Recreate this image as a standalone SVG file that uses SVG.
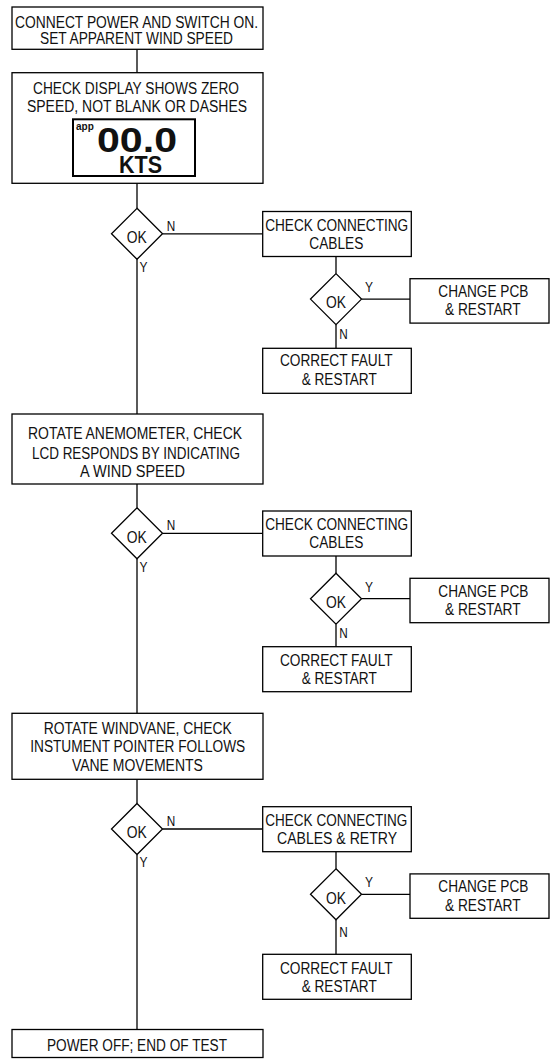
<svg xmlns="http://www.w3.org/2000/svg" width="550" height="1059" viewBox="0 0 550 1059">
<style>
rect.box,polygon.dec{fill:#fff;stroke:#000;stroke-width:1.3}
rect.disp{fill:#fff;stroke:#000;stroke-width:2}
#connectors line{stroke:#000;stroke-width:1.3}
text{font-family:"Liberation Sans",Arial,sans-serif;font-size:16px;fill:#111;text-anchor:middle}
text.lbl{font-size:14px;text-anchor:start}
text.big{font-weight:bold}
</style>
<rect width="550" height="1059" fill="#fff"/>
<g id="connectors">
<line x1="137" y1="49.3" x2="137" y2="72.7"/>
<line x1="137" y1="183.3" x2="137" y2="208.3"/>
<line x1="137" y1="259.3" x2="137" y2="414"/>
<line x1="137" y1="484" x2="137" y2="507.8"/>
<line x1="137" y1="558.8" x2="137" y2="713.3"/>
<line x1="137" y1="779.3" x2="137" y2="803.5"/>
<line x1="137" y1="854.5" x2="137" y2="1029.5"/>
<line x1="162.5" y1="233.8" x2="262.7" y2="233.8"/>
<line x1="336" y1="256.5" x2="336" y2="273.6"/>
<line x1="361.5" y1="299.1" x2="410" y2="299.1"/>
<line x1="336" y1="324.6" x2="336" y2="348.3"/>
<line x1="162.5" y1="533.3" x2="262.7" y2="533.3"/>
<line x1="336" y1="556" x2="336" y2="573.2"/>
<line x1="361.5" y1="598.7" x2="410" y2="598.7"/>
<line x1="336" y1="624.2" x2="336" y2="646.7"/>
<line x1="162.5" y1="829" x2="262.7" y2="829"/>
<line x1="336" y1="851.7" x2="336" y2="868.8"/>
<line x1="361.5" y1="894.3" x2="410" y2="894.3"/>
<line x1="336" y1="919.8" x2="336" y2="954.3"/>
</g>
<g id="start">
<rect class="box" x="12" y="7" width="251" height="42.3"/>
<text x="136.5" y="27.5" textLength="243" lengthAdjust="spacingAndGlyphs">CONNECT POWER AND SWITCH ON.</text>
<text x="136.5" y="44.4" textLength="193" lengthAdjust="spacingAndGlyphs">SET APPARENT WIND SPEED</text>
</g>
<g id="check-display">
<rect class="box" x="12" y="72.7" width="251" height="110.6"/>
<text x="136" y="94" textLength="206" lengthAdjust="spacingAndGlyphs">CHECK DISPLAY SHOWS ZERO</text>
<text x="137" y="112.4" textLength="220" lengthAdjust="spacingAndGlyphs">SPEED, NOT BLANK OR DASHES</text>
<rect class="disp" x="73" y="119.3" width="122" height="56.7"/>
<text class="big" x="76" y="130" style="font-size:10px;text-anchor:start">app</text>
<text class="big" x="137" y="151.7" style="font-size:35px" textLength="80" lengthAdjust="spacingAndGlyphs">00.0</text>
<text class="big" x="140.5" y="173.3" style="font-size:23px" textLength="43" lengthAdjust="spacingAndGlyphs">KTS</text>
</g>
<g id="ok1">
<polygon class="dec" points="137,208.3 162.5,233.8 137,259.3 111.5,233.8"/>
<text x="136.7" y="243" textLength="20" lengthAdjust="spacingAndGlyphs">OK</text>
<text class="lbl" x="166.7" y="231" textLength="8.5" lengthAdjust="spacingAndGlyphs">N</text>
<text class="lbl" x="139.5" y="271.5" textLength="8" lengthAdjust="spacingAndGlyphs">Y</text>
</g>
<g id="cables1">
<rect class="box" x="262.7" y="211.5" width="148.6" height="45"/>
<text x="336.7" y="230.5" textLength="143" lengthAdjust="spacingAndGlyphs">CHECK CONNECTING</text>
<text x="336.3" y="248.8" textLength="54" lengthAdjust="spacingAndGlyphs">CABLES</text>
</g>
<g id="ok1b">
<polygon class="dec" points="336,273.6 361.5,299.1 336,324.6 310.5,299.1"/>
<text x="336" y="308.3" textLength="20" lengthAdjust="spacingAndGlyphs">OK</text>
<text class="lbl" x="365" y="292.1" textLength="8" lengthAdjust="spacingAndGlyphs">Y</text>
<text class="lbl" x="339.3" y="338.7" textLength="8.5" lengthAdjust="spacingAndGlyphs">N</text>
</g>
<g id="pcb1">
<rect class="box" x="410" y="278.7" width="139" height="44.4"/>
<text x="483.3" y="297.1" textLength="90" lengthAdjust="spacingAndGlyphs">CHANGE PCB</text>
<text x="482.8" y="315.4" textLength="75.7" lengthAdjust="spacingAndGlyphs">&amp; RESTART</text>
</g>
<g id="fault1">
<rect class="box" x="262.7" y="348.3" width="148.6" height="45"/>
<text x="336.3" y="366.4" textLength="112.7" lengthAdjust="spacingAndGlyphs">CORRECT FAULT</text>
<text x="339.2" y="384.7" textLength="75" lengthAdjust="spacingAndGlyphs">&amp; RESTART</text>
</g>
<g id="anemometer">
<rect class="box" x="12" y="414" width="251" height="70"/>
<text x="135" y="439.3" textLength="214" lengthAdjust="spacingAndGlyphs">ROTATE ANEMOMETER, CHECK</text>
<text x="136" y="459" textLength="208" lengthAdjust="spacingAndGlyphs">LCD RESPONDS BY INDICATING</text>
<text x="132.5" y="477.3" textLength="105" lengthAdjust="spacingAndGlyphs">A WIND SPEED</text>
</g>
<g id="ok2">
<polygon class="dec" points="137,507.8 162.5,533.3 137,558.8 111.5,533.3"/>
<text x="136.7" y="542.5" textLength="20" lengthAdjust="spacingAndGlyphs">OK</text>
<text class="lbl" x="166.7" y="530" textLength="8.5" lengthAdjust="spacingAndGlyphs">N</text>
<text class="lbl" x="139.5" y="571.7" textLength="8" lengthAdjust="spacingAndGlyphs">Y</text>
</g>
<g id="cables2">
<rect class="box" x="262.7" y="511" width="148.6" height="45"/>
<text x="336.7" y="530" textLength="143" lengthAdjust="spacingAndGlyphs">CHECK CONNECTING</text>
<text x="336.3" y="548.3" textLength="54" lengthAdjust="spacingAndGlyphs">CABLES</text>
</g>
<g id="ok2b">
<polygon class="dec" points="336,573.2 361.5,598.7 336,624.2 310.5,598.7"/>
<text x="336" y="607.9" textLength="20" lengthAdjust="spacingAndGlyphs">OK</text>
<text class="lbl" x="365" y="591.7" textLength="8" lengthAdjust="spacingAndGlyphs">Y</text>
<text class="lbl" x="339.3" y="638.3" textLength="8.5" lengthAdjust="spacingAndGlyphs">N</text>
</g>
<g id="pcb2">
<rect class="box" x="410" y="578.3" width="139" height="44.4"/>
<text x="483.3" y="596.7" textLength="90" lengthAdjust="spacingAndGlyphs">CHANGE PCB</text>
<text x="482.8" y="615" textLength="75.7" lengthAdjust="spacingAndGlyphs">&amp; RESTART</text>
</g>
<g id="fault2">
<rect class="box" x="262.7" y="646.7" width="148.6" height="45"/>
<text x="336.3" y="666" textLength="112.7" lengthAdjust="spacingAndGlyphs">CORRECT FAULT</text>
<text x="339.2" y="684.3" textLength="75" lengthAdjust="spacingAndGlyphs">&amp; RESTART</text>
</g>
<g id="windvane">
<rect class="box" x="12" y="713.3" width="251" height="66"/>
<text x="137.7" y="734" textLength="188" lengthAdjust="spacingAndGlyphs">ROTATE WINDVANE, CHECK</text>
<text x="137.7" y="752.4" textLength="215" lengthAdjust="spacingAndGlyphs">INSTUMENT POINTER FOLLOWS</text>
<text x="137.4" y="770.7" textLength="131" lengthAdjust="spacingAndGlyphs">VANE MOVEMENTS</text>
</g>
<g id="ok3">
<polygon class="dec" points="137,803.5 162.5,829 137,854.5 111.5,829"/>
<text x="136.7" y="838.2" textLength="20" lengthAdjust="spacingAndGlyphs">OK</text>
<text class="lbl" x="166.7" y="825.7" textLength="8.5" lengthAdjust="spacingAndGlyphs">N</text>
<text class="lbl" x="139.5" y="867.4" textLength="8" lengthAdjust="spacingAndGlyphs">Y</text>
</g>
<g id="cables3">
<rect class="box" x="262.7" y="806.7" width="148.6" height="45"/>
<text x="336.3" y="825.7" textLength="142" lengthAdjust="spacingAndGlyphs">CHECK CONNECTING</text>
<text x="337" y="844" textLength="120" lengthAdjust="spacingAndGlyphs">CABLES &amp; RETRY</text>
</g>
<g id="ok3b">
<polygon class="dec" points="336,868.8 361.5,894.3 336,919.8 310.5,894.3"/>
<text x="336" y="903.5" textLength="20" lengthAdjust="spacingAndGlyphs">OK</text>
<text class="lbl" x="365" y="887.3" textLength="8" lengthAdjust="spacingAndGlyphs">Y</text>
<text class="lbl" x="339.3" y="936.5" textLength="8.5" lengthAdjust="spacingAndGlyphs">N</text>
</g>
<g id="pcb3">
<rect class="box" x="410" y="873.9" width="139" height="44.4"/>
<text x="483.3" y="892.3" textLength="90" lengthAdjust="spacingAndGlyphs">CHANGE PCB</text>
<text x="482.8" y="910.6" textLength="75.7" lengthAdjust="spacingAndGlyphs">&amp; RESTART</text>
</g>
<g id="fault3">
<rect class="box" x="262.7" y="954.3" width="148.6" height="45"/>
<text x="336.3" y="973.6" textLength="112.7" lengthAdjust="spacingAndGlyphs">CORRECT FAULT</text>
<text x="339.2" y="991.9" textLength="75" lengthAdjust="spacingAndGlyphs">&amp; RESTART</text>
</g>
<g id="end">
<rect class="box" x="12" y="1029.5" width="251" height="28"/>
<text x="137" y="1051" textLength="180" lengthAdjust="spacingAndGlyphs">POWER OFF; END OF TEST</text>
</g>
</svg>
